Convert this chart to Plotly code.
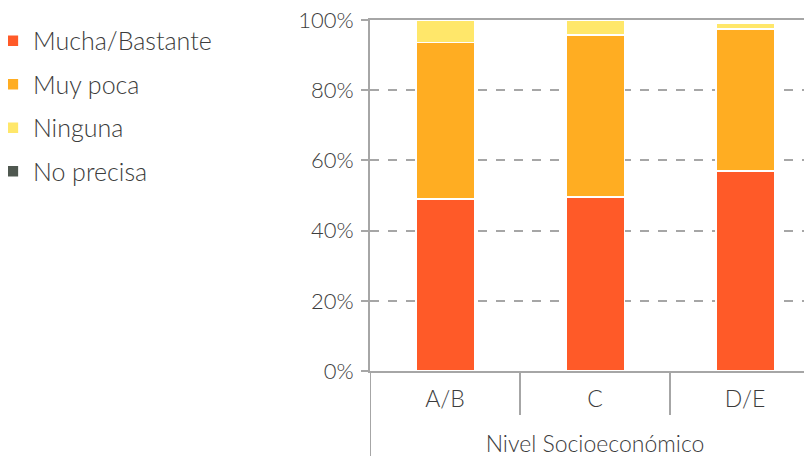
import plotly.graph_objects as go

categories = ["A/B", "C", "D/E"]
axis_title = "Nivel Socioeconómico"
mucha = [49, 49.6, 57]
muy_poca = [44.6, 46.1, 40.4]
ninguna = [6.4, 4.3, 1.6]
no_precisa = [0, 0, 0]
series_names = ["Mucha/Bastante", "Muy poca", "Ninguna", "No precisa"]
colors = ["#FF5A28", "#FFAD22", "#FFE76A", "#4F5850"]
y_ticks = [0, 20, 40, 60, 80, 100]
y_ticklabels = ["0%", "20%", "40%", "60%", "80%", "100%"]

FONT = "Lato"
TXT = "#3c3c3c"
GRAY = "#A6A6A6"

fig = go.Figure()
for i, (name, vals) in enumerate(zip(series_names, [mucha, muy_poca, ninguna, no_precisa])):
    fig.add_trace(go.Bar(
        x=categories, y=vals, name=name, legendgroup=name,
        marker=dict(color=colors[i], line=dict(color="white", width=1.5)),
        width=0.39,
    ))

# category dividers below the plot
for xv, y1 in [(-0.5, -0.27), (0.5, -0.125), (1.5, -0.125)]:
    fig.add_shape(type="line", xref="x", yref="paper", x0=xv, x1=xv, y0=0, y1=y1,
                  line=dict(color=GRAY, width=2), layer="above")

fig.update_layout(
    barmode="stack",
    width=812, height=456,
    margin=dict(l=362, r=0, t=12, b=93, autoexpand=False),
    plot_bgcolor="white", paper_bgcolor="white",
    font=dict(family=FONT, color=TXT, size=22, weight=300),
    showlegend=True,
    legend=dict(
        x=-0.838, xanchor="left", y=1.006, yanchor="top",
        font=dict(size=25, color=TXT, family=FONT, weight=300),
        traceorder="grouped", tracegroupgap=8,
        bgcolor="rgba(0,0,0,0)",
    ),
    xaxis=dict(
        type="category",
        range=[-0.5, 2.5],
        showline=True, linecolor=GRAY, linewidth=2,
        mirror=True,
        ticks="",
        ticklabelstandoff=6,
        tickfont=dict(size=23, color=TXT, family=FONT, weight=300),
        showgrid=False,
        title=dict(text=axis_title, font=dict(size=23, color=TXT, family=FONT, weight=300), standoff=25),
    ),
    yaxis=dict(
        range=[0, 100],
        tickvals=y_ticks, ticktext=y_ticklabels,
        showline=True, linecolor=GRAY, linewidth=2,
        showgrid=True, gridcolor=GRAY, gridwidth=1.5, griddash="dash",
        zeroline=False,
        ticks="outside", ticklen=7, tickcolor=GRAY, tickwidth=2,
        ticklabelstandoff=3,
        ticklabeloverflow="allow",
        tickfont=dict(size=22, color=TXT, family=FONT, weight=300),
    ),
)

fig.write_html("out.html")
